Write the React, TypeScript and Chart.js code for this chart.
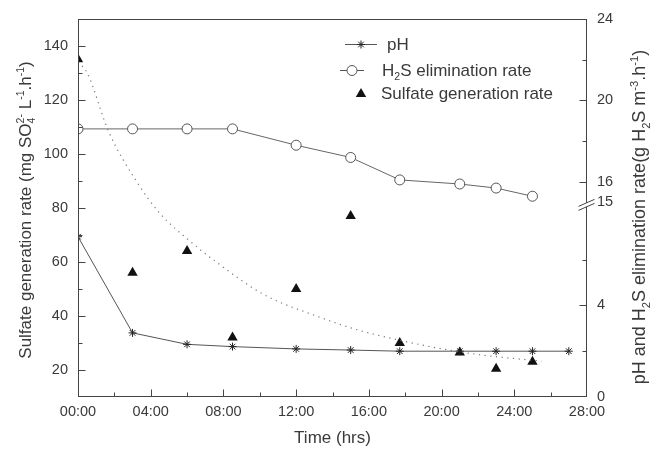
import React, { useEffect, useRef } from 'react';
import { Chart, registerables } from 'chart.js';

Chart.register(...registerables);

// ---------------- data ----------------
const phTime = [0, 3, 6, 8.5, 12, 15, 17.7, 21, 23, 25, 27];
const phValues = [7.0, 2.8, 2.3, 2.2, 2.1, 2.05, 2.0, 2.0, 2.0, 2.0, 2.0];

const h2sTime = [0, 3, 6, 8.5, 12, 15, 17.7, 21, 23, 25];
const h2sValues = [18.6, 18.6, 18.6, 18.6, 17.8, 17.2, 16.1, 15.9, 15.7, 15.3];

const sulfateTime = [0, 3, 6, 8.5, 12, 15, 17.7, 21, 23, 25];
const sulfateValues = [135, 56, 64, 32, 50, 77, 30, 26.5, 20.5, 23];

// dotted trend curve
const fitTime = [0, 0.5, 1.7, 3.2, 4.5, 6.1, 7.6, 10.2, 13.1, 15.3, 17.7, 20.2, 22.5, 25.5];
const fitValues = [134, 130, 108, 90, 78, 68, 60, 48, 40, 35, 31, 27.6, 25.3, 23.3];

// tick labels
const xTickHours = [0, 4, 8, 12, 16, 20, 24, 28];
const leftTickLabels = [20, 40, 60, 80, 100, 120, 140];
const rightUpperLabels = [15, 16, 20, 24];
const rightLowerLabels = [0, 4];

const FONT = '"Liberation Sans", Arial, Helvetica, sans-serif';
const TEXT = '#3a3a3a';
const AXIS = '#444444';

type Seg = { t: string; k?: 'sub' | 'sup' | 'pair'; s?: string };

const leftTitle: Seg[] = [
  { t: 'Sulfate generation rate (mg SO' },
  { t: '4', k: 'pair', s: '2-' },
  { t: ' L' },
  { t: '-1', k: 'sup' },
  { t: '.h' },
  { t: '-1', k: 'sup' },
  { t: ')' },
];
const rightTitle: Seg[] = [
  { t: 'pH and H' },
  { t: '2', k: 'sub' },
  { t: 'S elimination rate(g H' },
  { t: '2', k: 'sub' },
  { t: 'S m' },
  { t: '-3', k: 'sup' },
  { t: '.h' },
  { t: '-1', k: 'sup' },
  { t: ')' },
];
const bottomTitle: Seg[] = [{ t: 'Time (hrs)' }];

const legendPh: Seg[] = [{ t: 'pH' }];
const legendH2s: Seg[] = [{ t: 'H' }, { t: '2', k: 'sub' }, { t: 'S elimination rate' }];
const legendSulfate: Seg[] = [{ t: 'Sulfate generation rate' }];

function drawRich(
  ctx: CanvasRenderingContext2D,
  segs: Seg[],
  x: number,
  y: number,
  size: number,
  align: 'left' | 'center',
  angle: number
) {
  ctx.save();
  ctx.translate(x, y);
  ctx.rotate(angle);
  const small = size * 0.62;
  const widths = segs.map((seg) => {
    if (!seg.k) {
      ctx.font = `${size}px ${FONT}`;
      return ctx.measureText(seg.t).width;
    }
    ctx.font = `${small}px ${FONT}`;
    const w1 = ctx.measureText(seg.t).width;
    const w2 = seg.s ? ctx.measureText(seg.s).width : 0;
    return Math.max(w1, w2);
  });
  const total = widths.reduce((a, b) => a + b, 0);
  let cx = align === 'center' ? -total / 2 : 0;
  const base = size * 0.36;
  ctx.textBaseline = 'alphabetic';
  ctx.textAlign = 'left';
  ctx.fillStyle = TEXT;
  segs.forEach((seg, i) => {
    if (!seg.k) {
      ctx.font = `${size}px ${FONT}`;
      ctx.fillText(seg.t, cx, base);
    } else {
      ctx.font = `${small}px ${FONT}`;
      if (seg.k === 'sub' || seg.k === 'pair') ctx.fillText(seg.t, cx, base + size * 0.25);
      if (seg.k === 'sup') ctx.fillText(seg.t, cx, base - size * 0.42);
      if (seg.k === 'pair' && seg.s) ctx.fillText(seg.s, cx, base - size * 0.42);
    }
    cx += widths[i];
  });
  ctx.restore();
}

function drawStar(ctx: CanvasRenderingContext2D, x: number, y: number, r: number) {
  const d = r * 0.707;
  ctx.beginPath();
  ctx.moveTo(x - r, y);
  ctx.lineTo(x + r, y);
  ctx.moveTo(x, y - r);
  ctx.lineTo(x, y + r);
  ctx.moveTo(x - d, y - d);
  ctx.lineTo(x + d, y + d);
  ctx.moveTo(x - d, y + d);
  ctx.lineTo(x + d, y - d);
  ctx.stroke();
}

const decorPlugin = {
  id: 'decor',
  afterDraw(chart: any) {
    const { ctx, chartArea: a, scales } = chart;
    const L = Math.round(a.left) + 0.5;
    const R = Math.round(a.right) - 0.5;
    const T = Math.round(a.top) + 0.5;
    const B = Math.round(a.bottom) - 0.5;
    ctx.save();
    ctx.strokeStyle = AXIS;
    ctx.lineWidth = 1;
    ctx.strokeRect(L, T, R - L, B - T);

    // inward tick marks
    ctx.beginPath();
    for (let v = 2; v <= 26; v += 2) {
      const px = Math.round(scales.x.getPixelForValue(v)) + 0.5;
      const len = v % 4 === 0 ? 7 : 4;
      ctx.moveTo(px, B);
      ctx.lineTo(px, B - len);
    }
    for (let v = 20; v <= 140; v += 10) {
      const py = Math.round(scales.y.getPixelForValue(v)) + 0.5;
      const len = v % 20 === 0 ? 7 : 4;
      ctx.moveTo(L, py);
      ctx.lineTo(L + len, py);
    }
    for (const v of [16, 18, 20, 22]) {
      const py = Math.round(scales.yHi.getPixelForValue(v)) + 0.5;
      const len = v % 4 === 0 ? 7 : 4;
      ctx.moveTo(R, py);
      ctx.lineTo(R - len, py);
    }
    for (const v of [2, 4, 6]) {
      const py = Math.round(scales.yLo.getPixelForValue(v)) + 0.5;
      const len = v % 4 === 0 ? 7 : 4;
      ctx.moveTo(R, py);
      ctx.lineTo(R - len, py);
    }
    ctx.stroke();

    // axis break marks on the right axis
    const by = scales.yLo.top;
    ctx.fillStyle = '#ffffff';
    ctx.beginPath();
    ctx.moveTo(R - 8, by + 4);
    ctx.lineTo(R + 8, by - 3);
    ctx.lineTo(R + 8, by + 1);
    ctx.lineTo(R - 8, by + 8);
    ctx.closePath();
    ctx.fill();
    ctx.beginPath();
    ctx.moveTo(R - 8, by + 4);
    ctx.lineTo(R + 8, by - 3);
    ctx.moveTo(R - 8, by + 8);
    ctx.lineTo(R + 8, by + 1);
    ctx.stroke();

    // legend
    ctx.strokeStyle = '#555555';
    ctx.beginPath();
    ctx.moveTo(345, 44.5);
    ctx.lineTo(377, 44.5);
    ctx.stroke();
    ctx.strokeStyle = '#222222';
    drawStar(ctx, 361, 44.5, 4);
    drawRich(ctx, legendPh, 387, 44, 17, 'left', 0);

    ctx.strokeStyle = '#555555';
    ctx.beginPath();
    ctx.moveTo(340, 70.5);
    ctx.lineTo(364, 70.5);
    ctx.stroke();
    ctx.fillStyle = '#ffffff';
    ctx.beginPath();
    ctx.arc(352, 70.5, 5, 0, Math.PI * 2);
    ctx.fill();
    ctx.stroke();
    drawRich(ctx, legendH2s, 382, 70, 17, 'left', 0);

    ctx.fillStyle = '#111111';
    ctx.beginPath();
    ctx.moveTo(361, 88);
    ctx.lineTo(366.2, 97);
    ctx.lineTo(355.8, 97);
    ctx.closePath();
    ctx.fill();
    drawRich(ctx, legendSulfate, 381, 93, 17, 'left', 0);

    // axis titles
    drawRich(ctx, bottomTitle, (a.left + a.right) / 2, 437, 17, 'center', 0);
    drawRich(ctx, leftTitle, 25, 210, 17, 'center', -Math.PI / 2);
    drawRich(ctx, rightTitle, 639, 217, 18, 'center', -Math.PI / 2);
    ctx.restore();
  },
};

const tickFont = { family: FONT, size: 14.5 };
const noGrid = { display: false, drawTicks: false, tickLength: 0 };

export default function App() {
  const ref = useRef<HTMLCanvasElement>(null);
  useEffect(() => {
    document.body.style.margin = '0';
    document.body.style.overflow = 'hidden';
    const canvas = ref.current;
    if (!canvas) return;
    const pts = (xs: number[], ys: number[]) => xs.map((x, i) => ({ x, y: ys[i] }));
    const chart = new Chart(canvas, {
      type: 'line',
      data: {
        datasets: [
          {
            label: 'fit',
            data: pts(fitTime, fitValues),
            yAxisID: 'y',
            borderColor: '#777777',
            borderWidth: 1.2,
            borderDash: [1.2, 4.5],
            pointRadius: 0,
            cubicInterpolationMode: 'monotone',
            fill: false,
          },
          {
            label: 'pH',
            data: pts(phTime, phValues),
            yAxisID: 'yLo',
            borderColor: '#555555',
            borderWidth: 1,
            pointStyle: 'star',
            pointRadius: 4,
            pointBorderColor: '#222222',
            pointBorderWidth: 1,
            pointBackgroundColor: '#222222',
            tension: 0,
          },
          {
            label: 'H2S elimination rate',
            data: pts(h2sTime, h2sValues),
            yAxisID: 'yHi',
            borderColor: '#666666',
            borderWidth: 1,
            pointStyle: 'circle',
            pointRadius: 5,
            pointBorderColor: '#555555',
            pointBackgroundColor: '#ffffff',
            pointBorderWidth: 1,
            tension: 0,
          },
          {
            label: 'Sulfate generation rate',
            data: pts(sulfateTime, sulfateValues),
            yAxisID: 'y',
            showLine: false,
            pointStyle: 'triangle',
            pointRadius: 6,
            pointBackgroundColor: '#111111',
            pointBorderColor: '#111111',
            pointBorderWidth: 0,
          },
        ],
      },
      options: {
        responsive: false,
        animation: false,
        devicePixelRatio: 1,
        layout: { padding: { top: 18, left: 0, right: 0, bottom: 0 } },
        plugins: { legend: { display: false }, tooltip: { enabled: false } },
        scales: {
          x: {
            type: 'linear',
            min: 0,
            max: 28,
            grid: noGrid,
            border: { display: false },
            ticks: {
              stepSize: 2,
              autoSkip: false,
              maxRotation: 0,
              padding: 6,
              color: TEXT,
              font: tickFont,
              callback: (v: any) =>
                xTickHours.includes(Number(v)) ? `${String(v).padStart(2, '0')}:00` : '',
            },
            afterFit: (s: any) => {
              s.height = 53;
            },
          },
          y: {
            type: 'linear',
            position: 'left',
            min: 10,
            max: 150,
            grid: noGrid,
            border: { display: false },
            ticks: {
              stepSize: 10,
              autoSkip: false,
              padding: 10,
              color: TEXT,
              font: tickFont,
              callback: (v: any) => (leftTickLabels.includes(Number(v)) ? String(v) : ''),
            },
            afterFit: (s: any) => {
              s.width = 78;
            },
          },
          yHi: {
            type: 'linear',
            position: 'right',
            stack: 'right',
            stackWeight: 184,
            min: 15,
            max: 24,
            grid: noGrid,
            border: { display: false },
            ticks: {
              stepSize: 1,
              autoSkip: false,
              padding: 10,
              color: TEXT,
              font: tickFont,
              callback: (v: any) => (rightUpperLabels.includes(Number(v)) ? String(v) : ''),
            },
            afterFit: (s: any) => {
              s.width = 66;
            },
          },
          yLo: {
            type: 'linear',
            position: 'right',
            stack: 'right',
            stackWeight: 195,
            min: 0,
            max: 8.5,
            grid: noGrid,
            border: { display: false },
            ticks: {
              stepSize: 1,
              autoSkip: false,
              padding: 10,
              color: TEXT,
              font: tickFont,
              callback: (v: any) => (rightLowerLabels.includes(Number(v)) ? String(v) : ''),
            },
            afterFit: (s: any) => {
              s.width = 66;
            },
          },
        },
      } as any,
      plugins: [decorPlugin],
    });
    return () => chart.destroy();
  }, []);
  return (
    <canvas
      ref={ref}
      width={653}
      height={450}
      style={{ display: 'block', width: '653px', height: '450px' }}
    />
  );
}
